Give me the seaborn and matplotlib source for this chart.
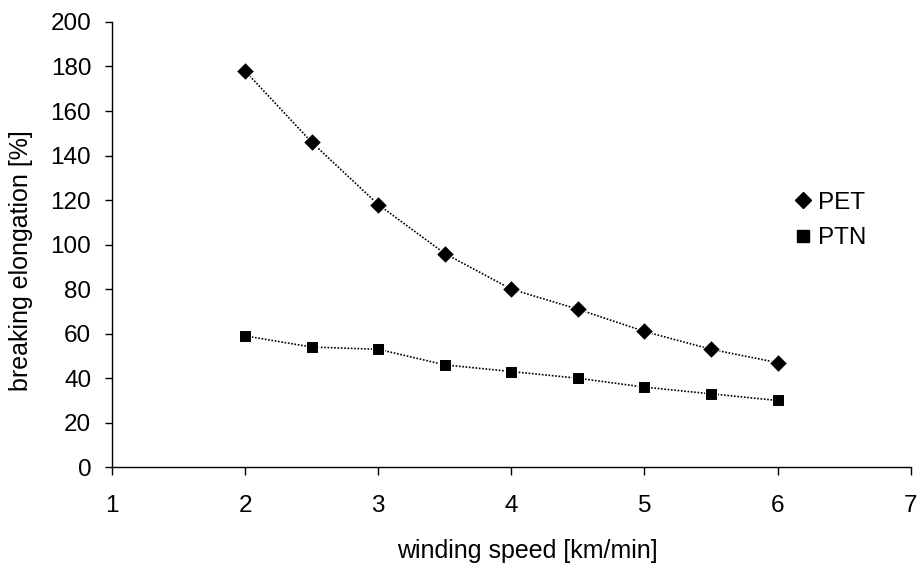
import pandas as pd
import matplotlib
matplotlib.use("Agg")
import matplotlib.pyplot as plt
import seaborn as sns
from matplotlib.lines import Line2D

# data
speed = [2, 2.5, 3, 3.5, 4, 4.5, 5, 5.5, 6]
pet = [178, 146, 118, 96, 80, 71, 61, 53, 47]
ptn = [59, 54, 53, 46, 43, 40, 36, 33, 30]

df = pd.DataFrame({
    "speed": speed * 2,
    "value": pet + ptn,
    "series": ["PET"] * len(pet) + ["PTN"] * len(ptn),
})

sns.set_style("white")
plt.rcParams["font.family"] = ["Liberation Sans", "DejaVu Sans"]
plt.rcParams["text.color"] = "black"
plt.rcParams["axes.labelcolor"] = "black"
plt.rcParams["xtick.color"] = "black"
plt.rcParams["ytick.color"] = "black"

fig, ax = plt.subplots(figsize=(9.18, 5.63), dpi=100)

sns.lineplot(data=df, x="speed", y="value", hue="series", style="series",
             markers={"PET": "D", "PTN": "s"}, dashes=False,
             palette={"PET": "black", "PTN": "black"},
             markersize=9, linewidth=0, legend=False, ax=ax)

# dotted connecting lines
for vals in (pet, ptn):
    ax.plot(speed, vals, color="black", linestyle=(0, (1, 1)), linewidth=1.2, zorder=1)

# legend
handles = [Line2D([], [], color="black", marker="D", linestyle="none", markersize=8),
           Line2D([], [], color="black", marker="s", linestyle="none", markersize=9)]
ax.legend(handles, ["PET", "PTN"], loc="upper left", bbox_to_anchor=(0.82, 0.668),
          frameon=False, fontsize=17.5, handletextpad=0.0, handlelength=1.2,
          labelspacing=0.55)

ax.set_xlim(1, 7)
ax.set_ylim(0, 200)
ax.set_xticks(range(1, 8))
ax.set_yticks(range(0, 201, 20))
ax.spines["top"].set_visible(False)
ax.spines["right"].set_visible(False)
for s in ("left", "bottom"):
    ax.spines[s].set_color("black")
    ax.spines[s].set_linewidth(1)
ax.tick_params(axis="y", direction="out", length=5, width=1, labelsize=17.5, left=True, pad=10)
ax.tick_params(axis="x", direction="out", length=6, width=1, labelsize=17.5, bottom=True, pad=14)

ax.set_xlabel("winding speed [km/min]", fontsize=18)
ax.set_ylabel("breaking elongation [%]", fontsize=18)
ax.xaxis.set_label_coords(0.52, -0.16)
ax.yaxis.set_label_coords(-0.099, 0.465)

fig.subplots_adjust(left=0.122, right=0.992, top=0.961, bottom=0.17)
fig.savefig("out.png", dpi=100)
